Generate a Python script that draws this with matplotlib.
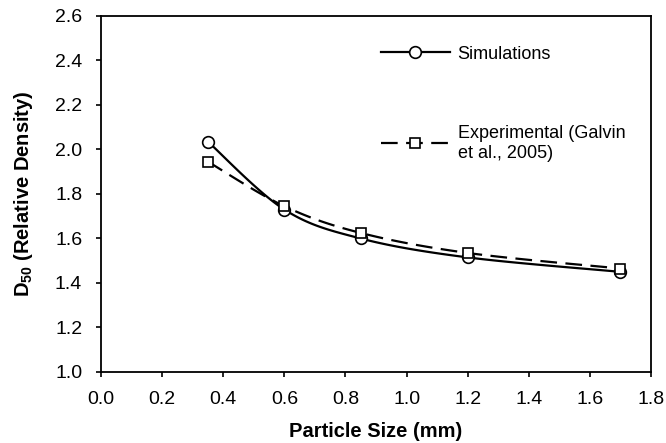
import numpy as np
import matplotlib
matplotlib.use('Agg')
import matplotlib.pyplot as plt

plt.rcParams['font.family'] = ['Liberation Sans', 'DejaVu Sans']
plt.rcParams['mathtext.fontset'] = 'custom'
plt.rcParams['mathtext.rm'] = 'Liberation Sans'
plt.rcParams['mathtext.bf'] = 'Liberation Sans:bold'

# data
size_mm = [0.35, 0.6, 0.85, 1.2, 1.7]
d50_sim = [2.035, 1.73, 1.60, 1.515, 1.45]
d50_exp = [1.945, 1.745, 1.625, 1.535, 1.465]


def smooth(x, y, n=30):
    # excel-like smoothed line (catmull-rom through the points)
    x = np.asarray(x, float)
    y = np.asarray(y, float)
    px = np.concatenate([[x[0]], x, [x[-1]]])
    py = np.concatenate([[y[0]], y, [y[-1]]])
    xs, ys = [], []
    t = np.linspace(0, 1, n)
    for i in range(1, len(px) - 2):
        p0, p1, p2, p3 = [np.array([px[j], py[j]]) for j in range(i - 1, i + 3)]
        c1 = p1 + (p2 - p0) / 6.0
        c2 = p2 - (p3 - p1) / 6.0
        b = ((1 - t) ** 3)[:, None] * p1 + (3 * (1 - t) ** 2 * t)[:, None] * c1 \
            + (3 * (1 - t) * t ** 2)[:, None] * c2 + (t ** 3)[:, None] * p2
        xs.extend(b[:, 0])
        ys.extend(b[:, 1])
    return xs, ys


fig = plt.figure(figsize=(6.66, 4.43), dpi=100)
ax = fig.add_axes([0.1517, 0.1603, 0.8258, 0.8036])

dash = (7.5, 3.8)
sx, sy = smooth(size_mm, d50_sim)
ex, ey = smooth(size_mm, d50_exp)
ax.plot(sx, sy, color='black', lw=1.6)
ax.plot(ex, ey, color='black', lw=1.6, dashes=dash)
ax.plot(size_mm, d50_sim, 'o', ms=8.4, mfc='white', mec='black', mew=1.2)
ax.plot(size_mm, d50_exp, 's', ms=7.4, mfc='white', mec='black', mew=1.2)

# legend handles
h1, = ax.plot([], [], color='black', lw=1.6, marker='o', ms=8.4, mfc='white', mec='black', mew=1.2)
h2, = ax.plot([], [], color='black', lw=1.6, dashes=dash, marker='s', ms=7.4, mfc='white', mec='black', mew=1.2)
ax.legend([h1, h2], ['Simulations', 'Experimental (Galvin\net al., 2005)'],
          loc='upper left', bbox_to_anchor=(0.572, 0.897), bbox_transform=fig.transFigure,
          frameon=False, borderpad=0, borderaxespad=0,
          handlelength=3.8, handletextpad=0.45, labelspacing=3.45, fontsize=13)

ax.set_xlim(0, 1.8)
ax.set_ylim(1.0, 2.6)
ax.set_xticks(np.arange(0, 1.81, 0.2))
ax.set_yticks(np.arange(1.0, 2.61, 0.2))
ax.xaxis.set_major_formatter(plt.FormatStrFormatter('%.1f'))
ax.yaxis.set_major_formatter(plt.FormatStrFormatter('%.1f'))
ax.tick_params(direction='out', length=3.6, width=1.2, labelsize=14)
ax.tick_params(axis='x', pad=10)
ax.tick_params(axis='y', pad=10)
for s in ax.spines.values():
    s.set_linewidth(1.3)

ax.set_xlabel('Particle Size (mm)', fontsize=14.5, fontweight='bold')
ax.set_ylabel(r'$\mathbf{D_{50}}$ (Relative Density)', fontsize=14.5, fontweight='bold')
ax.xaxis.set_label_coords(0.5, -0.14)
ax.yaxis.set_label_coords(-0.12, 0.5)

fig.savefig('out.png', dpi=100)
